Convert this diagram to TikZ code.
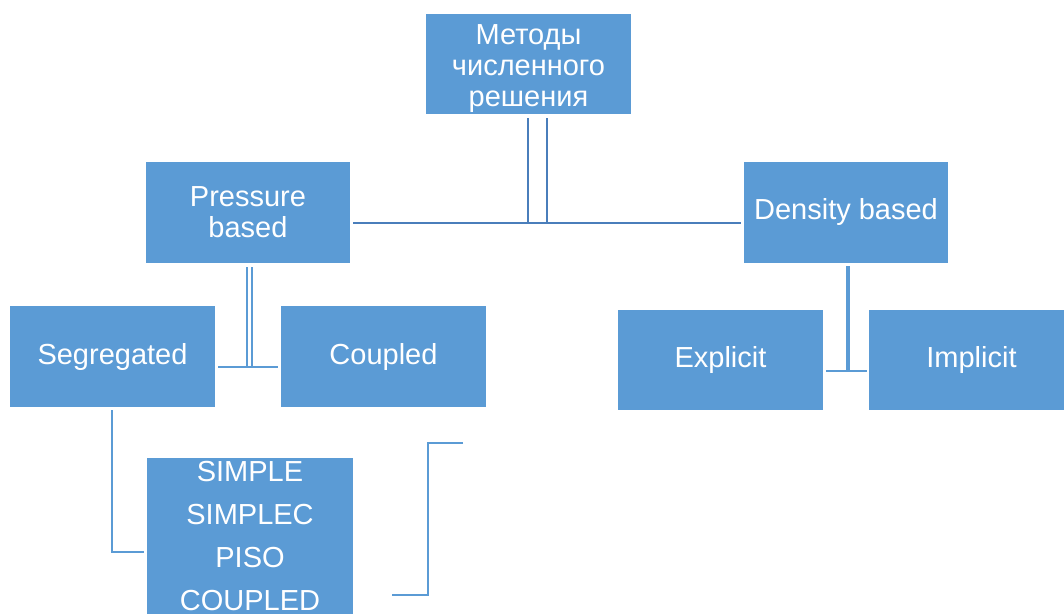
\documentclass[tikz,border=0pt]{standalone}
\usepackage{fontspec}
\setmainfont{Liberation Sans}
\definecolor{boxblue}{HTML}{5B9BD5}
\definecolor{lineblue}{HTML}{5B9BD5}
\definecolor{darkline}{HTML}{4A7EBB}
\begin{document}
\begin{tikzpicture}[x=1pt,y=-1pt,
  box/.style={fill=boxblue,draw=none,text=white,inner sep=0pt,align=center,
    minimum width=205pt,minimum height=101pt,font=\fontsize{29}{31}\selectfont},
  conn/.style={draw=lineblue,line width=2pt},
  dconn/.style={draw=darkline,line width=2pt}]
\useasboundingbox (0,0) rectangle (1064,615);
\clip (0,0) rectangle (1064,615);
\node[box,minimum height=100pt] (top) at (528.5,64) {\mbox{}\\[-2pt]Методы\\численного\\решения};
\node[box,minimum width=204pt] (pressure) at (248,212.5) {Pressure\\based};
\node[box,minimum width=204pt] (density) at (846,212.5) {Density based};
\node[box] (segregated) at (112.5,356.5) {Segregated};
\node[box] (coupled) at (383.5,356.5) {Coupled};
\node[box,minimum height=100pt] (explicit) at (720.5,360) {Explicit};
\node[box,minimum height=100pt] (implicit) at (971.5,360) {Implicit};
\node[box,minimum width=206pt,minimum height=156pt,font=\fontsize{29}{43}\selectfont] (simple) at (250,536) {SIMPLE\\SIMPLEC\\PISO\\COUPLED};
% top connector
\draw[dconn] (top.south) ++(-0.5,4) -- ++(0,105) -- ++(19,0) -- ++(0,-105);
\draw[dconn] (pressure.east) ++(3,10.5) -- ++(388,0);
% pressure children
\draw[conn] (pressure.south) ++(-1,4) -- ++(0,100) -- ++(5,0) -- ++(0,-100);
\draw[conn] (segregated.east) ++(3,10.5) -- ++(60,0);
% density children
\draw[conn,line width=3.5pt] (density.south) ++(2,3) -- ++(0,106);
\draw[conn] (explicit.east) ++(3,11) -- ++(41,0);
% segregated to simple
\draw[conn] (segregated.south) ++(-0.5,3) -- ++(0,142) -- ++(32,0);
% free bracket
\coordinate (b1) at (463,443);
\draw[conn] (b1) -- ++(-35,0) -- ++(0,152) -- ++(-36,0);
\end{tikzpicture}
\end{document}
